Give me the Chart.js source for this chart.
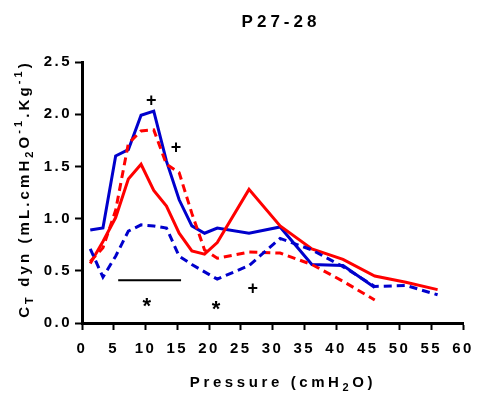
<!DOCTYPE html>
<html>
<head>
<meta charset="utf-8">
<script src="https://cdn.jsdelivr.net/npm/chart.js@4/dist/chart.umd.min.js"></script>
<style>
  html, body { margin: 0; padding: 0; background: #fff; }
  canvas { display: block; }
</style>
</head>
<body>
<canvas id="chart" width="478" height="398"></canvas>
<script>
// pressures (cmH2O) where CT dyn was measured
const pressure = [1.3, 3.3, 5.3, 7.3, 9.3, 11.3, 13.3, 15.3, 17.3, 19.3, 21.3, 26.3, 31.2, 36.2, 41.1, 46.1, 51, 56];

// four curves (null = no point)
const blueSolid  = [0.89, 0.91, 1.60, 1.66, 1.99, 2.03, 1.55, 1.18, 0.93, 0.86, 0.91, 0.86, 0.92, 0.56, 0.55, 0.34, null, null];
const blueDashed = [0.71, 0.44, 0.64, 0.88, 0.94, 0.93, 0.91, 0.64, 0.56, 0.49, 0.42, 0.55, 0.81, 0.70, 0.54, 0.35, 0.36, 0.27];
const redSolid   = [0.57, 0.78, 1.01, 1.38, 1.52, 1.27, 1.12, 0.86, 0.69, 0.66, 0.77, 1.28, 0.93, 0.71, 0.61, 0.45, 0.39, 0.32];
const redDashed  = [0.59, 0.72, 1.08, 1.72, 1.84, 1.85, 1.52, 1.44, 1.05, 0.70, 0.62, 0.68, 0.67, 0.56, 0.40, 0.22, null, null];

// significance bar and markers
const barX = [5.7, 15.6];
const barY = [0.41, 0.41];
const markText = ['+', '+', '*', '*', '+'];
const markX = [10.9, 14.8, 10.2, 21.1, 26.9];
const markY = [2.13, 1.68, 0.20, 0.17, 0.33];

const xTicks = [0, 60, 5];
const yTicks = [0, 2.5, 0.5];

const BLUE = 'rgb(0, 0, 204)';
const RED = 'rgb(255, 0, 0)';
const FONT = '"Liberation Sans", Arial, sans-serif';

function toPoints(xs, ys) {
  const pts = [];
  xs.forEach((x, i) => {
    if (ys[i] !== null && ys[i] !== undefined) pts.push({ x: x, y: ys[i] });
  });
  return pts;
}

function lineSet(values, color, dashed) {
  return {
    data: toPoints(pressure, values),
    borderColor: color,
    borderWidth: 3,
    borderDash: dashed ? [8, 5] : [],
    pointRadius: 0,
    tension: 0,
    fill: false
  };
}

// draw text made of pieces, some lowered (sub) or raised (sup)
function drawRich(ctx, parts, cx, cy, size, spacing) {
  const small = Math.round(size * 0.7);
  let total = 0;
  parts.forEach(p => {
    ctx.font = 'bold ' + (p.s ? small : size) + 'px ' + FONT;
    ctx.letterSpacing = spacing + 'px';
    p.w = ctx.measureText(p.t).width;
    total += p.w;
  });
  let x = cx - total / 2;
  parts.forEach(p => {
    ctx.font = 'bold ' + (p.s ? small : size) + 'px ' + FONT;
    ctx.letterSpacing = spacing + 'px';
    const dy = p.s === 'sub' ? size * 0.3 : p.s === 'sup' ? -size * 0.4 : 0;
    ctx.fillText(p.t, x, cy + dy);
    x += p.w;
  });
}

const textPlugin = {
  id: 'texts',
  beforeUpdate(chart) {
    chart.ctx.letterSpacing = '2.5px';
  },
  beforeDraw(chart) {
    chart.ctx.letterSpacing = '2.5px';
  },
  afterDraw(chart) {
    const ctx = chart.ctx;
    const xs = chart.scales.x;
    const ys = chart.scales.y;
    ctx.save();
    ctx.fillStyle = '#000';
    ctx.textBaseline = 'middle';
    ctx.textAlign = 'left';

    // title
    drawRich(ctx, [{ t: 'P27-28' }], 281, 22, 17, 4);

    // x axis title
    drawRich(ctx, [
      { t: 'Pressure (cmH' }, { t: '2', s: 'sub' }, { t: 'O)' }
    ], 283, 383, 15, 3.6);

    // y axis title, rotated
    ctx.save();
    ctx.translate(25, 189);
    ctx.rotate(-Math.PI / 2);
    drawRich(ctx, [
      { t: 'C' }, { t: 'T', s: 'sub' }, { t: ' dyn (mL.cmH' }, { t: '2', s: 'sub' },
      { t: 'O' }, { t: '-1', s: 'sup' }, { t: '.Kg' }, { t: '-1', s: 'sup' }, { t: ')' }
    ], 0, 0, 15, 3.1);
    ctx.restore();

    // markers
    ctx.textAlign = 'center';
    ctx.letterSpacing = '0px';
    markText.forEach((t, i) => {
      const star = t === '*';
      ctx.font = 'bold ' + (star ? 22 : 18) + 'px ' + FONT;
      ctx.fillText(t, xs.getPixelForValue(markX[i]), ys.getPixelForValue(markY[i]) + (star ? 5 : 0));
    });
    ctx.restore();
  }
};

new Chart(document.getElementById('chart'), {
  type: 'line',
  data: {
    datasets: [
      lineSet(blueDashed, BLUE, true),
      lineSet(redDashed, RED, true),
      lineSet(redSolid, RED, false),
      lineSet(blueSolid, BLUE, false),
      {
        data: toPoints(barX, barY),
        borderColor: '#000',
        borderWidth: 2,
        pointRadius: 0,
        fill: false
      }
    ]
  },
  options: {
    responsive: false,
    animation: false,
    devicePixelRatio: 1,
    layout: { padding: { top: 62, right: 15, left: 0, bottom: 0 } },
    plugins: {
      legend: { display: false },
      tooltip: { enabled: false },
      title: { display: false }
    },
    scales: {
      x: {
        type: 'linear',
        min: xTicks[0],
        max: xTicks[1],
        ticks: {
          stepSize: xTicks[2],
          autoSkip: false,
          maxRotation: 0,
          padding: 10,
          color: '#000',
          font: { family: FONT, size: 15, weight: 'bold' }
        },
        grid: {
          drawOnChartArea: false,
          drawTicks: true,
          tickLength: 7,
          tickWidth: 2,
          tickColor: '#000',
          color: '#000'
        },
        border: { display: true, color: '#000', width: 3 },
        afterFit(scale) {
          scale.height = 75;
          scale.paddingLeft = 0;
          scale.paddingRight = 0;
        }
      },
      y: {
        min: yTicks[0],
        max: yTicks[1],
        ticks: {
          stepSize: yTicks[2],
          padding: 3,
          color: '#000',
          font: { family: FONT, size: 15, weight: 'bold' },
          callback: v => v.toFixed(1)
        },
        grid: {
          drawOnChartArea: false,
          drawTicks: true,
          tickLength: 7,
          tickWidth: 2,
          tickColor: '#000',
          color: '#000'
        },
        border: { display: true, color: '#000', width: 3 },
        afterFit(scale) {
          scale.width = 82;
          scale.paddingTop = 0;
          scale.paddingBottom = 0;
        }
      }
    }
  },
  plugins: [textPlugin]
});
</script>
</body>
</html>
